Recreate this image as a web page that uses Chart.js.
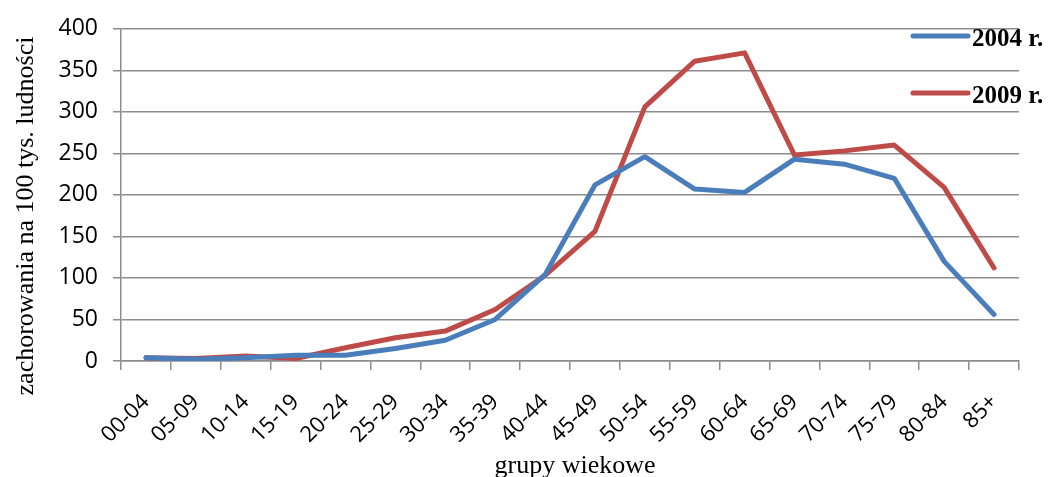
<!DOCTYPE html>
<html>
<head>
<meta charset="utf-8">
<script src="https://cdn.jsdelivr.net/npm/chart.js@4/dist/chart.umd.min.js"></script>
<style>
  html, body { margin: 0; padding: 0; background: #fff; }
  #wrap { width: 1050px; height: 477px; }
</style>
</head>
<body>
<div id="wrap"><canvas id="chart" width="1050" height="477"></canvas></div>
<script>
// age groups
const ageGroups = ["00-04", "05-09", "10-14", "15-19", "20-24", "25-29", "30-34", "35-39", "40-44",
    "45-49", "50-54", "55-59", "60-64", "65-69", "70-74", "75-79", "80-84", "85+"];

// incidence per 100k
const values2004 = [4, 2, 4, 7, 7, 15, 25, 50, 104, 212, 246, 207, 203, 243, 237, 220, 120, 56];
const values2009 = [4, 3, 6, 3, 16, 28, 36, 62, 103, 156, 306, 361, 371, 248, 253, 260, 209, 112];

const seriesNames = ["2004 r.", "2009 r."];
const yTicks = [0, 50, 100, 150, 200, 250, 300, 350, 400];

const yTitle = "zachorowania na 100 tys. ludności";
const xTitle = "grupy wiekowe";

const gridColor = "#8c8c8c";
const serif = "'Liberation Serif', 'Times New Roman', serif";
const sans = "'Open Sans', 'Noto Sans', sans-serif";

// legend + axis titles drawn on top, the way the original has them
const overlay = {
    id: "overlay",
    afterDraw(chart) {
        const ctx = chart.ctx;
        ctx.save();
        chart.data.datasets.forEach((ds, i) => {
            const y = 36 + i * 57;
            ctx.strokeStyle = ds.borderColor;
            ctx.lineWidth = 5;
            ctx.lineCap = "round";
            ctx.beginPath();
            ctx.moveTo(913, y);
            ctx.lineTo(968, y);
            ctx.stroke();
            ctx.fillStyle = "#000";
            ctx.font = "bold 25px " + serif;
            ctx.textBaseline = "alphabetic";
            ctx.textAlign = "left";
            ctx.fillText(ds.label, 972, y + 10);
        });

        ctx.fillStyle = "#000";
        ctx.font = "26px " + serif;
        ctx.textAlign = "center";
        ctx.textBaseline = "alphabetic";
        ctx.fillText(xTitle, 575, 473);

        ctx.translate(33, 216);
        ctx.rotate(-Math.PI / 2);
        ctx.fillText(yTitle, 0, 0);
        ctx.restore();
    }
};

new Chart(document.getElementById("chart"), {
    type: "line",
    data: {
        labels: ageGroups,
        datasets: [
            {
                label: seriesNames[0],
                data: values2004,
                borderColor: "#4a7ebb",
                backgroundColor: "#4a7ebb",
            },
            {
                label: seriesNames[1],
                data: values2009,
                borderColor: "#be4b48",
                backgroundColor: "#be4b48",
            },
        ],
    },
    options: {
        responsive: false,
        animation: false,
        layout: { padding: { top: 25, right: 31, left: 0, bottom: 0 } },
        elements: {
            line: { borderWidth: 5, tension: 0, borderJoinStyle: "round", borderCapStyle: "round" },
            point: { radius: 0, hoverRadius: 0 },
        },
        plugins: {
            legend: { display: false },
            tooltip: { enabled: false },
        },
        scales: {
            x: {
                offset: true,
                grid: {
                    offset: true,
                    drawOnChartArea: false,
                    drawTicks: true,
                    tickLength: 9,
                    color: gridColor,
                    lineWidth: 1.5,
                },
                border: { display: true, color: gridColor, width: 1.5 },
                ticks: {
                    color: "#000",
                    font: { family: sans, size: 22 },
                    minRotation: 45,
                    maxRotation: 45,
                    autoSkip: false,
                    padding: 19,
                },
                afterFit(scale) { scale.height = 116; },
            },
            y: {
                min: 0,
                max: 400,
                afterBuildTicks(scale) { scale.ticks = yTicks.map(v => ({ value: v })); },
                grid: {
                    color: gridColor,
                    lineWidth: 1.5,
                    drawTicks: true,
                    tickLength: 8,
                },
                border: { display: true, color: gridColor, width: 1.5 },
                ticks: {
                    color: "#000",
                    font: { family: sans, size: 23 },
                    padding: 15,
                },
                afterFit(scale) { scale.width = 121; },
            },
        },
    },
    plugins: [overlay],
});
</script>
</body>
</html>
